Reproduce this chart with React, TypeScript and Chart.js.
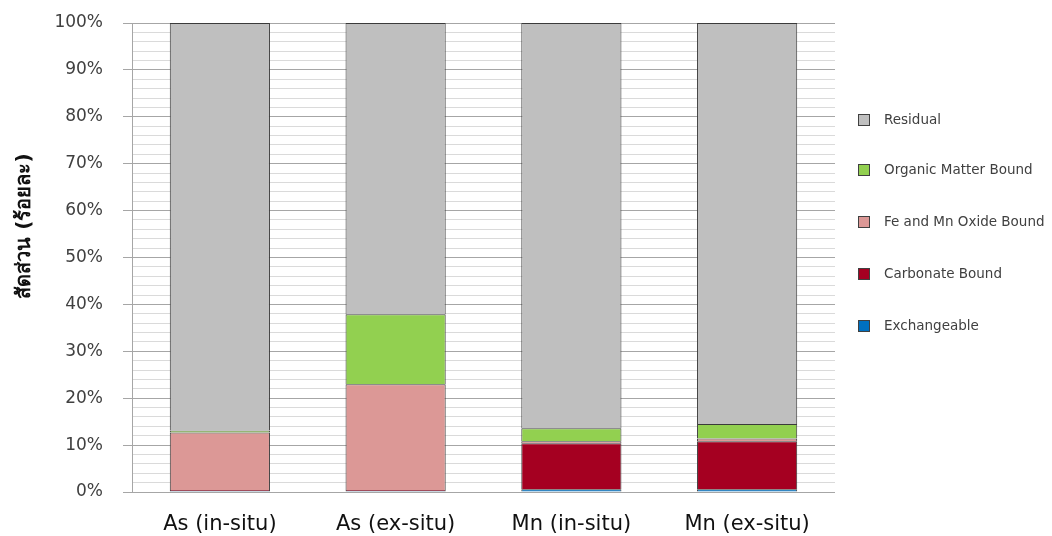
import React, { useEffect, useRef } from "react";
import { Chart, registerables } from "chart.js";

Chart.register(...registerables);

const categories = ["As (in-situ)", "As (ex-situ)", "Mn (in-situ)", "Mn (ex-situ)"];
const exchangeable = [0.2, 0.2, 0.6, 0.6];
const carbonateBound = [0.2, 0.2, 9.8, 10.2];
const feMnOxideBound = [12.3, 22.6, 0.4, 0.6];
const organicMatterBound = [0.4, 14.9, 2.8, 3.1];
const residual = [86.9, 62.1, 86.4, 85.5];

const seriesNames = ["Exchangeable", "Carbonate Bound", "Fe and Mn Oxide Bound", "Organic Matter Bound", "Residual"];
const seriesColors = ["#0070c0", "#a50021", "#dc9896", "#92d050", "#bfbfbf"];
const yTitle = "สัดส่วน (ร้อยละ)";

const FONT = "'DejaVu Sans', 'Noto Sans', sans-serif";

// Legend drawn as a column on the right, top series first
const sideLegend = {
  id: "sideLegend",
  afterDraw(chart: any) {
    const ctx = chart.ctx;
    const sets = chart.data.datasets;
    const rowY = [120, 170, 222, 274, 326];
    ctx.save();
    ctx.font = `13.5px ${FONT}`;
    ctx.textBaseline = "middle";
    ctx.textAlign = "left";
    for (let i = 0; i < sets.length; i++) {
      const ds = sets[sets.length - 1 - i];
      const y = rowY[i];
      ctx.fillStyle = ds.backgroundColor;
      ctx.fillRect(858.5, y - 5.5, 11, 11);
      ctx.strokeStyle = "#404040";
      ctx.lineWidth = 1;
      ctx.strokeRect(858.5, y - 5.5, 11, 11);
      ctx.fillStyle = "#404040";
      ctx.fillText(ds.label, 884, y);
    }
    ctx.restore();
  },
};

// Rotated y-axis title, placed slightly above the plot's middle
const yAxisTitle = {
  id: "yAxisTitle",
  afterDraw(chart: any) {
    const ctx = chart.ctx;
    ctx.save();
    ctx.translate(25, 226);
    ctx.rotate(-Math.PI / 2);
    ctx.font = `bold 20px ${FONT}`;
    ctx.fillStyle = "#111111";
    ctx.textAlign = "center";
    ctx.textBaseline = "middle";
    ctx.fillText(yTitle, 0, 0);
    ctx.restore();
  },
};

export default function App() {
  const ref = useRef<HTMLCanvasElement | null>(null);

  useEffect(() => {
    if (!ref.current) return;
    const values = [exchangeable, carbonateBound, feMnOxideBound, organicMatterBound, residual];
    const chart = new Chart(ref.current, {
      type: "bar",
      data: {
        labels: categories,
        datasets: values.map((v, i) => ({
          label: seriesNames[i],
          data: v,
          backgroundColor: seriesColors[i],
          borderColor: "#3a3a3a",
          borderWidth: 1,
          categoryPercentage: 1,
          barPercentage: 0.57,
        })),
      },
      options: {
        responsive: false,
        animation: false,
        layout: { padding: { top: 23, right: 217, left: 0, bottom: 0 } },
        plugins: {
          legend: { display: false },
          tooltip: { enabled: false },
        },
        scales: {
          x: {
            stacked: true,
            grid: { display: false, drawTicks: false },
            border: { display: false },
            ticks: {
              padding: 20,
              color: "#111111",
              font: { family: FONT, size: 21 },
            },
            afterFit: (scale: any) => {
              scale.height = 44;
            },
          },
          y: {
            stacked: true,
            min: 0,
            max: 100,
            border: { display: true, color: "#a6a6a6" },
            grid: {
              color: (c: any) => (c.tick && c.tick.value % 10 === 0 ? "#a6a6a6" : "#dadada"),
              tickColor: (c: any) => (c.tick && c.tick.value % 10 === 0 ? "#a6a6a6" : "rgba(0,0,0,0)"),
              tickLength: 9,
            },
            ticks: {
              stepSize: 2,
              autoSkip: false,
              padding: 20,
              color: "#404040",
              font: { family: FONT, size: 17 },
              callback: (v: any) => (Number(v) % 10 === 0 ? `${v}%` : ""),
            },
            afterFit: (scale: any) => {
              scale.width = 132;
              scale.paddingTop = 0;
              scale.paddingBottom = 0;
            },
          },
        },
      },
      plugins: [sideLegend, yAxisTitle],
    });
    return () => chart.destroy();
  }, []);

  return (
    <div style={{ position: "absolute", left: 0, top: 0, width: 1052, height: 536, background: "#fff" }}>
      <canvas ref={ref} width={1052} height={536} />
    </div>
  );
}
